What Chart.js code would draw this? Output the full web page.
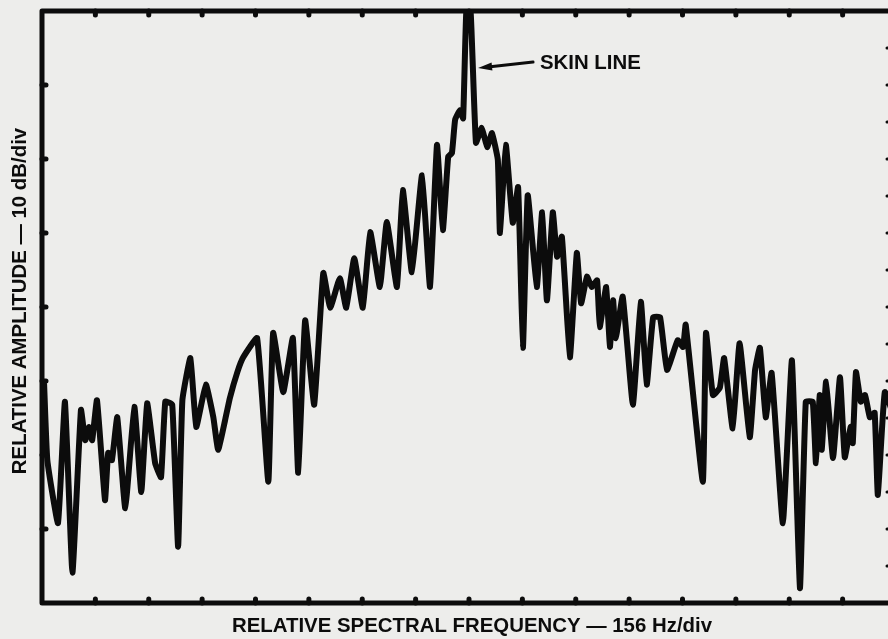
<!DOCTYPE html>
<html>
<head>
<meta charset="utf-8">
<script src="https://cdn.jsdelivr.net/npm/chart.js@4.4.0/dist/chart.umd.min.js"></script>
<style>
  html, body { margin: 0; padding: 0; overflow: hidden; background: #ededeb; }
  #wrap { width: 904px; height: 639px; }
</style>
</head>
<body>
<div id="wrap"><canvas id="spectrum" width="904" height="639"></canvas></div>
<script>
// trace: x in divisions from the skin line, y in dB above the bottom edge
const freqDiv = [
  -7.96, -7.90, -7.70, -7.57, -7.43, -7.27, -7.19, -7.12, -7.06, -6.97,
  -6.82, -6.76, -6.69, -6.59, -6.44, -6.27, -6.14, -6.03, -5.88, -5.77,
  -5.69, -5.56, -5.45, -5.37, -5.22, -5.11, -4.93, -4.79, -4.70, -4.57,
  -4.48, -4.34, -4.23, -3.97, -3.76, -3.67, -3.48, -3.30, -3.20, -3.07,
  -2.90, -2.73, -2.60, -2.42, -2.30, -2.15, -1.99, -1.85, -1.67, -1.54,
  -1.35, -1.24, -1.07, -0.88, -0.73, -0.60, -0.49, -0.39, -0.32, -0.26,
  -0.17, -0.11, -0.05, 0.03, 0.13, 0.24, 0.34, 0.43, 0.54, 0.58,
  0.69, 0.82, 0.92, 1.01, 1.10, 1.27, 1.37, 1.46, 1.57, 1.65,
  1.74, 1.89, 2.02, 2.10, 2.21, 2.30, 2.40, 2.45, 2.57, 2.64,
  2.70, 2.75, 2.88, 3.07, 3.22, 3.33, 3.45, 3.58, 3.71, 3.91,
  4.01, 4.06, 4.38, 4.44, 4.57, 4.70, 4.78, 4.94, 5.07, 5.26,
  5.36, 5.45, 5.56, 5.67, 5.88, 6.05, 6.20, 6.31, 6.44, 6.50,
  6.57, 6.61, 6.69, 6.82, 6.95, 7.04, 7.15, 7.19, 7.25, 7.34,
  7.42, 7.51, 7.60, 7.66, 7.79, 7.98
];
const ampDb = [
  29.5, 19.3, 10.8, 27.2, 4.1, 26.1, 22.0, 23.8, 22.0, 27.4,
  13.9, 20.3, 19.3, 25.1, 12.8, 26.5, 15.0, 27.0, 18.9, 17.0,
  27.2, 26.8, 7.6, 27.4, 33.1, 23.8, 29.5, 25.1, 20.7, 24.7,
  27.7, 31.2, 33.2, 35.8, 16.4, 36.5, 28.5, 35.8, 17.6, 38.2,
  26.8, 44.6, 39.9, 43.9, 39.9, 46.6, 39.9, 50.1, 42.7, 51.5,
  42.7, 55.8, 44.7, 57.8, 42.7, 61.9, 50.4, 60.3, 60.8, 65.3,
  66.6, 65.5, 80.0, 80.0, 62.2, 64.2, 61.6, 63.5, 59.9, 50.0,
  61.9, 51.4, 56.2, 34.5, 55.1, 42.7, 52.8, 40.9, 52.8, 46.8,
  49.5, 33.2, 47.3, 40.5, 44.1, 42.7, 43.6, 37.3, 42.7, 34.6,
  40.9, 35.8, 41.4, 26.8, 40.7, 29.5, 38.6, 38.6, 31.5, 35.5,
  34.6, 37.6, 16.4, 36.5, 28.1, 29.1, 33.1, 23.6, 35.1, 22.4,
  31.5, 34.5, 25.1, 31.1, 10.8, 32.8, 2.0, 27.2, 27.2, 18.9,
  28.1, 20.7, 29.9, 19.6, 30.5, 19.7, 23.8, 21.6, 31.2, 27.2,
  28.1, 25.1, 25.7, 14.6, 28.5, 24.7
];

const xTicks = [-7, -6, -5, -4, -3, -2, -1, 0, 1, 2, 3, 4, 5, 6, 7];
const yTicksLeft = [10, 20, 30, 40, 50, 60, 70];
const yTicksRight = [5, 10, 15, 20, 25, 30, 35, 40, 45, 50, 55, 60, 65, 70, 75];

const xTitle = 'RELATIVE SPECTRAL FREQUENCY \u2014 156 Hz/div';
const yTitle = 'RELATIVE AMPLITUDE \u2014 10 dB/div';
const skinLabel = 'SKIN LINE';
const skinArrow = { fromX: 1.20, fromY: 73.1, toX: 0.17, toY: 72.3, labelX: 1.33 };

const ink = '#0c0c0c';
const labelFont = 'bold 20.4px "Liberation Sans", Arial, sans-serif';

const points = freqDiv.map((f, i) => ({ x: f, y: ampDb[i] }));

// frame, inward ticks, titles and the skin line note
const framePlugin = {
    id: 'framePlugin',
    afterDatasetsDraw(chart) {
        const { ctx, chartArea: a, scales: { x, y } } = chart;
        ctx.save();
        ctx.strokeStyle = ink;
        ctx.fillStyle = ink;
        ctx.lineCap = 'round';
        ctx.lineJoin = 'round';

        ctx.lineWidth = 5;
        ctx.strokeRect(a.left, a.top, a.right - a.left, a.bottom - a.top);

        ctx.beginPath();
        xTicks.forEach(v => {
            const px = x.getPixelForValue(v);
            ctx.moveTo(px, a.top); ctx.lineTo(px, a.top + 4);
            ctx.moveTo(px, a.bottom); ctx.lineTo(px, a.bottom - 4);
        });
        yTicksLeft.forEach(v => {
            const py = y.getPixelForValue(v);
            ctx.moveTo(a.left, py); ctx.lineTo(a.left + 4, py);
        });
        ctx.stroke();
        ctx.lineWidth = 3;
        ctx.beginPath();
        yTicksRight.forEach(v => {
            const py = y.getPixelForValue(v);
            ctx.moveTo(a.right, py); ctx.lineTo(a.right - 9, py);
        });
        ctx.stroke();

        ctx.font = labelFont;
        ctx.textAlign = 'center';
        ctx.textBaseline = 'alphabetic';
        ctx.fillText(xTitle, (a.left + a.right) / 2 + 3, 632);

        ctx.save();
        ctx.translate(26, 301);
        ctx.rotate(-Math.PI / 2);
        ctx.fillText(yTitle, 0, 0);
        ctx.restore();

        // arrow to the skin line
        const x0 = x.getPixelForValue(skinArrow.fromX), y0 = y.getPixelForValue(skinArrow.fromY);
        const x1 = x.getPixelForValue(skinArrow.toX), y1 = y.getPixelForValue(skinArrow.toY);
        const ang = Math.atan2(y1 - y0, x1 - x0);
        ctx.lineWidth = 3;
        ctx.beginPath();
        ctx.moveTo(x0, y0);
        ctx.lineTo(x1 - 10 * Math.cos(ang), y1 - 10 * Math.sin(ang));
        ctx.stroke();
        ctx.beginPath();
        ctx.moveTo(x1, y1);
        ctx.lineTo(x1 - 14 * Math.cos(ang) - 4 * Math.sin(ang), y1 - 14 * Math.sin(ang) + 4 * Math.cos(ang));
        ctx.lineTo(x1 - 14 * Math.cos(ang) + 4 * Math.sin(ang), y1 - 14 * Math.sin(ang) - 4 * Math.cos(ang));
        ctx.closePath();
        ctx.fill();

        ctx.textAlign = 'left';
        ctx.fillText(skinLabel, x.getPixelForValue(skinArrow.labelX), y1 + 1);
        ctx.restore();
    }
};

new Chart(document.getElementById('spectrum'), {
    type: 'line',
    data: {
        datasets: [{
            data: points,
            borderColor: ink,
            borderWidth: 6,
            pointRadius: 0,
            tension: 0.12,
            borderJoinStyle: 'round',
            borderCapStyle: 'round',
            fill: false
        }]
    },
    options: {
        responsive: false,
        animation: false,
        devicePixelRatio: 1,
        layout: { padding: { left: 42, right: 8, top: 11, bottom: 36 } },
        plugins: {
            legend: { display: false },
            tooltip: { enabled: false }
        },
        scales: {
            x: { type: 'linear', min: -8, max: 8, display: false },
            y: { type: 'linear', min: 0, max: 80, display: false }
        }
    },
    plugins: [framePlugin]
});
</script>
</body>
</html>
